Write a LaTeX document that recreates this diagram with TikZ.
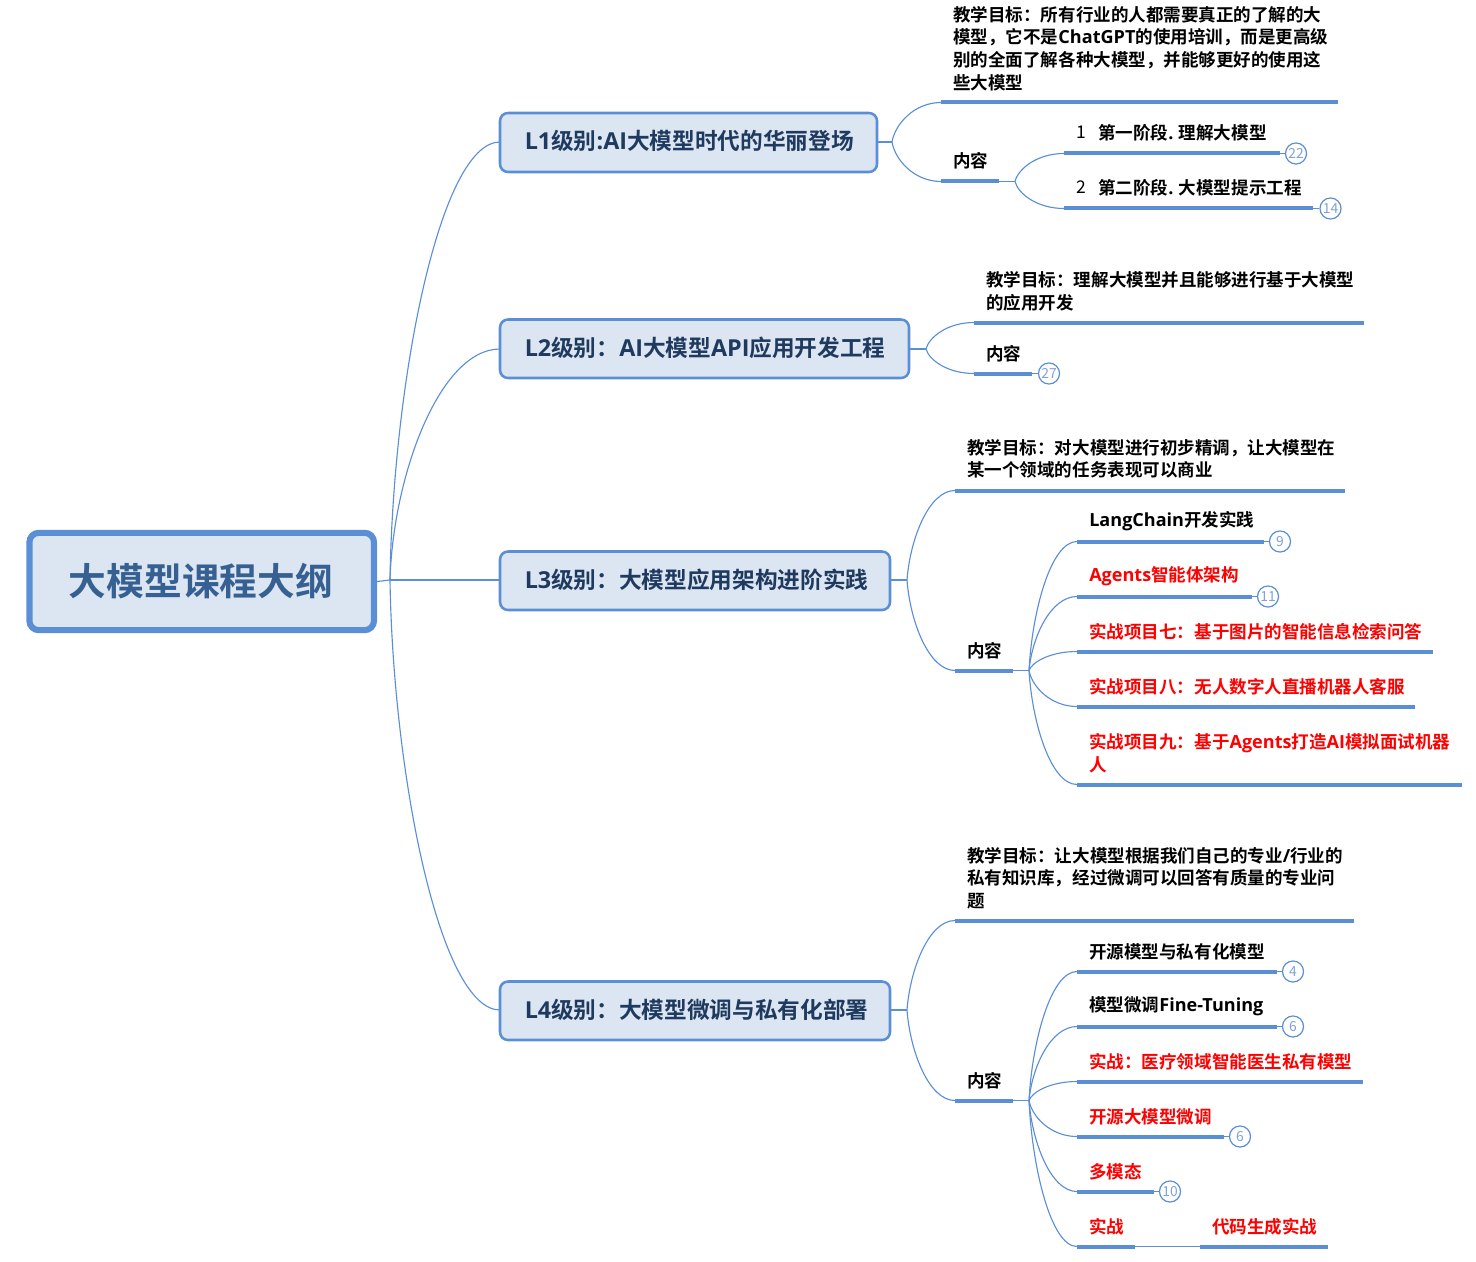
\documentclass[tikz,border=0pt]{standalone}
\usepackage{fontspec}
\usetikzlibrary{calc}
\setmainfont{Noto Sans CJK SC}[UprightFont=* Bold,BoldFont=* Black]
\newfontfamily\latf{Open Sans}[UprightFont=*,BoldFont=* Bold,Scale=1.03]
\newfontfamily\plainf{Noto Sans CJK SC}
\newcommand{\lat}[1]{{\latf\bfseries #1}}
\definecolor{linec}{HTML}{5A8FD6}
\definecolor{fillc}{HTML}{DCE6F2}
\definecolor{rootc}{HTML}{376092}
\definecolor{levc}{HTML}{1F3A5F}
\definecolor{badgec}{HTML}{7FA3D6}
\tikzset{
  x=0.75pt,y=-0.75pt,
  rootbox/.style={draw=linec,fill=fillc,line width=4.6pt,rounded corners=7pt,inner sep=0pt,font=\fontsize{28.3}{30}\selectfont,text=rootc},
  levbox/.style={draw=linec,fill=fillc,line width=1.9pt,rounded corners=6pt},
  levtext/.style={anchor=west,inner sep=0pt,font=\fontsize{17}{20}\selectfont,text=levc},
  conn/.style={draw=linec,line width=0.85pt},
  bar/.style={draw=linec,line width=3pt},
  txt/.style={anchor=west,inner sep=0pt,align=left,font=\fontsize{13.15}{16.9}\selectfont,text=black},
  redtxt/.style={txt,text=red},
  badge/.style={circle,draw=linec,fill=white,line width=0.9pt,minimum size=15.8pt,inner sep=0pt,font=\fontsize{10.4}{11}\plainf,text=badgec},
}
% bar: name, x1, x2, y
\newcommand{\barat}[4]{\coordinate (#1l) at (#2,#4);\coordinate (#1r) at (#3,#4);\draw[bar] (#1l)--(#1r);}
\newcommand{\fork}[2]{\draw[conn] (#1) .. controls ($(#1)!0.45!(#1|-#2)+(3,0)$) and ($(#2)!0.55!(#1|-#2)$) .. (#2);}
\begin{document}
\begin{tikzpicture}
\useasboundingbox (0,0) rectangle (1476,1262);
% root
\node[rootbox,minimum width=258.4pt,minimum height=73pt] (root) at (201.7,581.5) {\raisebox{1.1pt}{\hspace{-1pt}大模型课程大纲}};
\coordinate (hub) at (390,580);
% levels
\path[levbox] (500,113) rectangle (877,172); \coordinate (L1w) at (500,142); \coordinate (L1e) at (877,142);
\path[levbox] (500,319.5) rectangle (909,378); \coordinate (L2w) at (500,349); \coordinate (L2e) at (909,349);
\path[levbox] (500,551.5) rectangle (890,610); \coordinate (L3w) at (500,580); \coordinate (L3e) at (890,580);
\path[levbox] (500,981.5) rectangle (890,1040); \coordinate (L4w) at (500,1010); \coordinate (L4e) at (890,1010);
\node[levtext] (L1) at (524.5,141) {{\latf\bfseries L1}级别{\latf\bfseries :AI}大模型时代的华丽登场};
\node[levtext] (L2) at (524.5,348) {{\latf\bfseries L2}级别：{\latf\bfseries AI}大模型{\latf\bfseries API}应用开发工程};
\node[levtext] (L3) at (524.5,580) {{\latf\bfseries L3}级别：大模型应用架构进阶实践};
\node[levtext] (L4) at (524.5,1010) {{\latf\bfseries L4}级别：大模型微调与私有化部署};
\draw[conn] (root.east)--(hub);
\fork{hub}{L1w}\fork{hub}{L2w}\fork{hub}{L4w}
\draw[conn] (hub)--(L3w);
% L1 branch
\coordinate (f1) at (892,142); \draw[conn] (L1e)--(f1);
\barat{a1}{941}{1338}{102.5}
\barat{a2}{941}{999}{181.5}
\fork{f1}{a1l}\fork{f1}{a2l}
\node[txt] (ta1) at (953,48.5) {教学目标：所有行业的人都需要真正的了解的大\\模型，它不是\lat{ChatGPT}的使用培训，而是更高级\\别的全面了解各种大模型，并能够更好的使用这\\些大模型};
\node[txt] (ta2) at (953,160.5) {内容};
\coordinate (f2) at (1015,181.5); \draw[conn] (a2r)--(f2);
\barat{a3}{1064}{1280}{153.5}
\barat{a4}{1064}{1313}{208.5}
\fork{f2}{a3l}\fork{f2}{a4l}
\node[txt] (n1) at (1076,132.5) {\plainf 1};
\node[txt] (ta3) at (1098,132.5) {第一阶段\lat{.} 理解大模型};
\node[txt] (n2) at (1076,187.5) {\plainf 2};
\node[txt] (ta4) at (1098,187.5) {第二阶段\lat{.} 大模型提示工程};
\node[badge] (b1) at (1296,153.5) {22}; \draw[conn] (a3r)--(b1);
\node[badge] (b2) at (1330.5,208.5) {14}; \draw[conn] (a4r)--(b2);
% L2 branch
\coordinate (f3) at (926,349); \draw[conn] (L2e)--(f3);
\barat{c1}{974}{1364}{322.5}
\barat{c2}{974}{1032}{373.5}
\fork{f3}{c1l}\fork{f3}{c2l}
\node[txt] (tc1) at (986,291.5) {教学目标：理解大模型并且能够进行基于大模型\\的应用开发};
\node[txt] (tc2) at (986,353.5) {内容};
\node[badge] (b3) at (1049,373.5) {27}; \draw[conn] (c2r)--(b3);
% L3 branch
\coordinate (f4) at (907,580); \draw[conn] (L3e)--(f4);
\barat{d1}{955}{1345}{490.5}
\barat{d2}{955}{1013}{670.5}
\fork{f4}{d1l}\fork{f4}{d2l}
\node[txt] (td1) at (967,459) {教学目标：对大模型进行初步精调，让大模型在\\某一个领域的任务表现可以商业};
\node[txt] (td2) at (967,650.5) {内容};
\coordinate (f5) at (1029,670.5); \draw[conn] (d2r)--(f5);
\barat{e1}{1077}{1264}{541.5}
\barat{e2}{1077}{1252}{596.5}
\barat{e3}{1077}{1433}{651.5}
\barat{e4}{1077}{1415}{706.5}
\barat{e5}{1077}{1462}{784.5}
\fork{f5}{e1l}\fork{f5}{e2l}\fork{f5}{e3l}\fork{f5}{e4l}\fork{f5}{e5l}
\node[txt] (te1) at (1089,521.5) {\lat{LangChain}开发实践};
\node[redtxt] (te2) at (1089,576.5) {\lat{Agents}智能体架构};
\node[redtxt] (te3) at (1089,631.5) {实战项目七：基于图片的智能信息检索问答};
\node[redtxt] (te4) at (1089,686.5) {实战项目八：无人数字人直播机器人客服};
\node[redtxt] (te5) at (1089,753) {实战项目九：基于\lat{Agents}打造\lat{AI}模拟面试机器\\人};
\node[badge] (b4) at (1280,541.5) {9}; \draw[conn] (e1r)--(b4);
\node[badge] (b5) at (1268,596.5) {11}; \draw[conn] (e2r)--(b5);
% L4 branch
\coordinate (f6) at (907,1010); \draw[conn] (L4e)--(f6);
\barat{g1}{955}{1354}{920.5}
\barat{g2}{955}{1013}{1100.5}
\fork{f6}{g1l}\fork{f6}{g2l}
\node[txt] (tg1) at (967,878) {教学目标：让大模型根据我们自己的专业\lat{/}行业的\\私有知识库，经过微调可以回答有质量的专业问\\题};
\node[txt] (tg2) at (967,1080.5) {内容};
\coordinate (f7) at (1029,1100.5); \draw[conn] (g2r)--(f7);
\barat{h1}{1077}{1277}{971.5}
\barat{h2}{1077}{1277}{1026.5}
\barat{h3}{1077}{1363}{1081.5}
\barat{h4}{1077}{1224}{1136.5}
\barat{h5}{1077}{1154}{1191.5}
\barat{h6}{1077}{1135}{1246.5}
\barat{h7}{1200}{1328}{1246.5}
\fork{f7}{h1l}\fork{f7}{h2l}\fork{f7}{h3l}\fork{f7}{h4l}\fork{f7}{h5l}\fork{f7}{h6l}
\draw[conn] (h6r)--(h7l);
\node[txt] (th1) at (1089,951.5) {开源模型与私有化模型};
\node[txt] (th2) at (1089,1006.5) {模型微调\lat{Fine-Tuning}};
\node[redtxt] (th3) at (1089,1061.5) {实战：医疗领域智能医生私有模型};
\node[redtxt] (th4) at (1089,1116.5) {开源大模型微调};
\node[redtxt] (th5) at (1089,1171.5) {多模态};
\node[redtxt] (th6) at (1089,1226.5) {实战};
\node[redtxt] (th7) at (1212,1226.5) {代码生成实战};
\node[badge] (b6) at (1293,971.5) {4}; \draw[conn] (h1r)--(b6);
\node[badge] (b7) at (1293,1026.5) {6}; \draw[conn] (h2r)--(b7);
\node[badge] (b8) at (1240,1136.5) {6}; \draw[conn] (h4r)--(b8);
\node[badge] (b9) at (1170,1191.5) {10}; \draw[conn] (h5r)--(b9);
\end{tikzpicture}
\end{document}
